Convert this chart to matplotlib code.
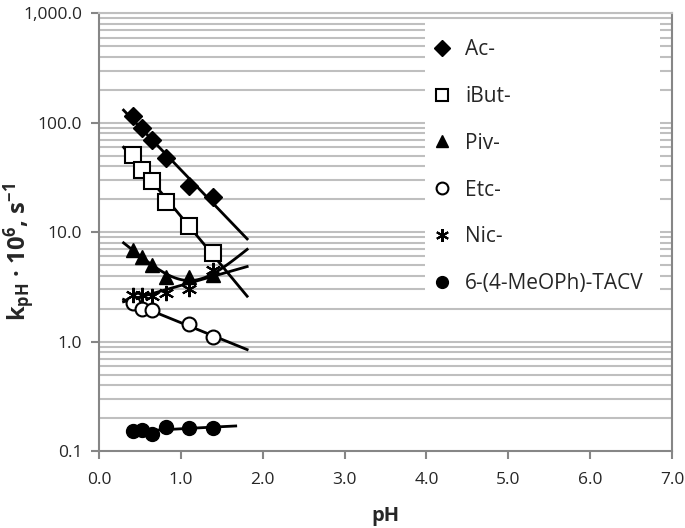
import numpy as np
import matplotlib.pyplot as plt
from matplotlib.patches import Rectangle
from matplotlib.ticker import FixedLocator, FuncFormatter, NullFormatter

plt.rcParams['font.family'] = ['Open Sans', 'DejaVu Sans']
plt.rcParams['mathtext.fontset'] = 'custom'
plt.rcParams['mathtext.rm'] = 'Open Sans'
plt.rcParams['mathtext.bf'] = 'Open Sans:bold'
plt.rcParams['mathtext.it'] = 'Open Sans:italic'

# data
ph = [0.41, 0.52, 0.65, 0.82, 1.10, 1.39]
ac = [114, 89.6, 70, 47.9, 26.5, 21.1]
ibut = [50.2, 37.1, 29.2, 18.7, 11.4, 6.4]
piv = [6.9, 5.97, 5.0, 3.9, 3.9, 4.06]
ph_etc = [0.41, 0.52, 0.65, 1.10, 1.39]
etc = [2.25, 2.0, 1.96, 1.44, 1.10]
nic = [2.67, 2.67, 2.61, 2.76, 3.0, 4.51]
tacv = [0.151, 0.157, 0.142, 0.165, 0.163, 0.163]

labels = ['Ac-', 'iBut-', 'Piv-', 'Etc-', 'Nic-', '6-(4-MeOPh)-TACV']

fig = plt.figure(figsize=(6.85, 5.28), dpi=100)
ax = fig.add_axes([99 / 685, 77 / 528, 573 / 685, 437.7 / 528])

grid_c = '#bfbfbf'
ax_c = '#868686'
txt_c = '#262626'

ax.set_yscale('log')
ax.set_ylim(0.1, 1000)
ax.set_xlim(0, 7)

# gridlines (major + minor), Excel style
for dec in [0.1, 1, 10, 100]:
    for m in range(1, 10):
        v = dec * m
        if v > 0.1:
            ax.axhline(v, color=grid_c, lw=1.5, zorder=0)
ax.axhline(1000, color=grid_c, lw=1.5, zorder=0)


def exp_line(x, y, x0, x1):
    p = np.polyfit(x, np.log10(y), 1)
    xx = np.linspace(x0, x1, 100)
    return xx, 10 ** np.polyval(p, xx)


def poly_line(x, y, x0, x1):
    p = np.polyfit(x, y, 2)
    xx = np.linspace(x0, x1, 100)
    return xx, np.polyval(p, xx)


def lin_line(x, y, x0, x1):
    p = np.polyfit(x, y, 1)
    xx = np.linspace(x0, x1, 100)
    return xx, np.polyval(p, xx)


lw = 2
for f, x, y in [(exp_line, ph, ac), (exp_line, ph, ibut), (poly_line, ph, piv),
                (exp_line, ph_etc, etc), (exp_line, ph, nic)]:
    xx, yy = f(x, y, 0.3, 1.81)
    ax.plot(xx, yy, color='black', lw=lw, zorder=2)
xx, yy = lin_line(ph, tacv, 0.41, 1.67)
ax.plot(xx, yy, color='black', lw=lw, zorder=2)

ax.plot(ph, ac, 'D', color='black', ms=9, ls='none', label=labels[0], zorder=3)
ax.plot(ph, ibut, 's', mfc='white', mec='black', mew=1.5, ms=11, ls='none', label=labels[1], zorder=3)
ax.plot(ph, piv, '^', color='black', ms=10, ls='none', label=labels[2], zorder=3)
ax.plot(ph_etc, etc, 'o', mfc='white', mec='black', mew=1.5, ms=10, ls='none', label=labels[3], zorder=3)
ax.plot(ph, nic, marker=(6, 2, 0), color='black', mew=1.5, ms=11, ls='none', label=labels[4], zorder=3)
ax.plot(ph, tacv, 'o', color='black', ms=10, ls='none', label=labels[5], zorder=3)

ax.yaxis.set_major_locator(FixedLocator([0.1, 1, 10, 100, 1000]))
ax.yaxis.set_minor_formatter(NullFormatter())
ax.yaxis.set_major_formatter(FuncFormatter(lambda v, p: '{:,.1f}'.format(v)))
ax.tick_params(axis='y', which='minor', length=0)
ax.set_xticks(np.arange(0, 7.01, 1))
ax.xaxis.set_major_formatter(FuncFormatter(lambda v, p: '{:.1f}'.format(v)))
ax.tick_params(axis='both', which='major', length=6, width=1.5, color=ax_c,
               labelsize=12.5, labelcolor=txt_c, direction='out')
ax.tick_params(axis='x', pad=9)
ax.tick_params(axis='y', pad=6)

for s in ['left', 'bottom', 'right']:
    ax.spines[s].set_color(ax_c)
    ax.spines[s].set_linewidth(1.5)
ax.spines['top'].set_color(grid_c)
ax.spines['top'].set_linewidth(1.5)

ax.set_xlabel('pH', fontsize=14.5, fontweight='bold', labelpad=13, color=txt_c)
fig.text(19 / 685, 1 - 252 / 528,
         r'k$_{\mathbf{pH}}$ · 10$^{\mathbf{6}}$, s$^{\mathbf{-1}}$', fontsize=17,
         fontweight='bold', color=txt_c, rotation=90, ha='center', va='center')

# white legend area
ax.add_patch(Rectangle((425 / 685, 1 - 295 / 528), 235 / 685, 273 / 528,
                       transform=fig.transFigure, facecolor='white',
                       edgecolor='none', zorder=4, clip_on=False))

leg = ax.legend(loc='upper left', bbox_to_anchor=(432 / 685, 1 - 39 / 528),
                bbox_transform=fig.transFigure, frameon=False,
                fontsize=15, labelspacing=1.24, handletextpad=0.6,
                borderpad=0, handlelength=1.0, borderaxespad=0, markerscale=0.85)
leg.set_zorder(5)
for t in leg.get_texts():
    t.set_color(txt_c)

plt.savefig('out.png', dpi=100)
